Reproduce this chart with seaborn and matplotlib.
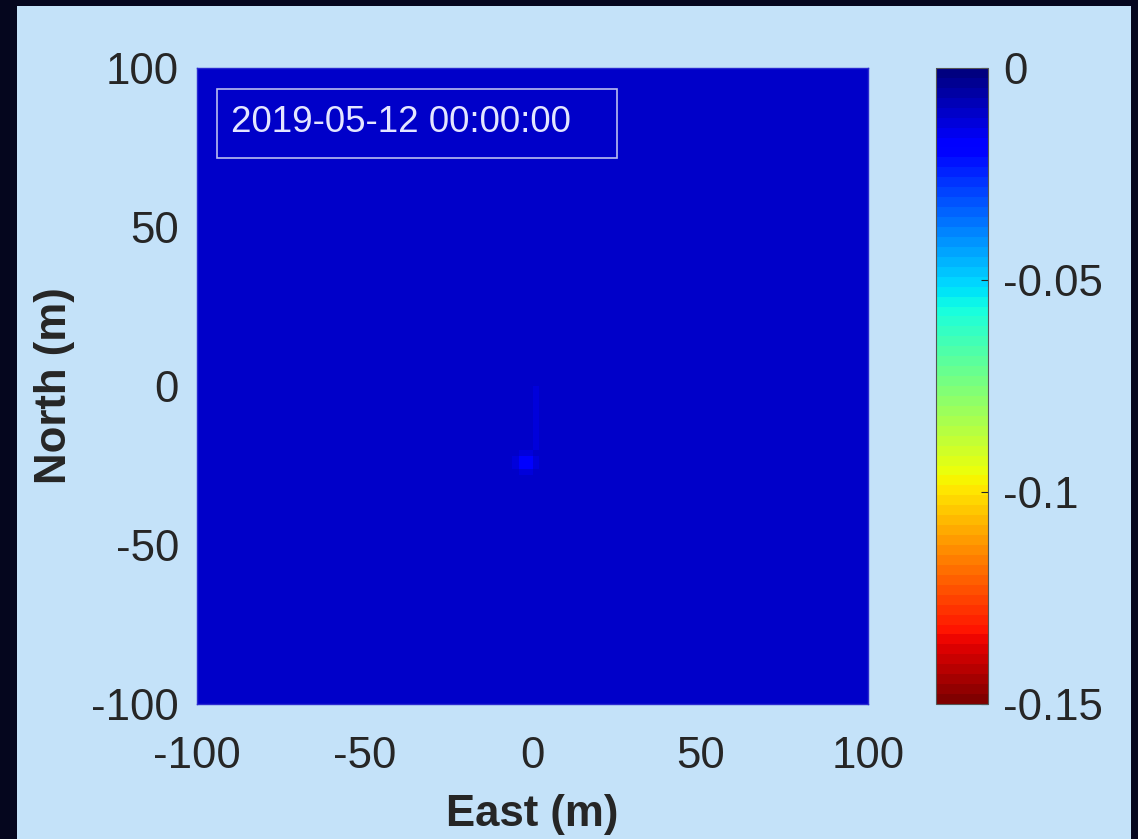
import numpy as np
import pandas as pd
import matplotlib
matplotlib.use("Agg")
import matplotlib.pyplot as plt
from matplotlib.patches import Rectangle
import seaborn as sns

# ---- data ----
grid_step = 2.0                       # metres per cell
east_edges_min, east_edges_max = -100, 100
north_edges_min, north_edges_max = -100, 100
base_value = -0.0105                  # uniform background value

# local anomalies (cell centres, metres) and their values
anom_east = [-3, -1, -3, -1,
             -5, -5, 1, 1, -3, -1, -3, -1,
             1, 1, 1, 1, 1, 1, 1, 1, 1, 1, 1, 1]
anom_north = [-23, -23, -25, -25,
              -23, -25, -23, -25, -21, -21, -27, -27,
              3, 1, -1, -3, -5, -7, -9, -11, -13, -15, -17, -19]
anom_value = [-0.018, -0.018, -0.018, -0.018,
              -0.014, -0.014, -0.014, -0.014, -0.014, -0.014, -0.014, -0.014,
              -0.0115, -0.0115, -0.012, -0.012, -0.012, -0.012, -0.012, -0.012,
              -0.0125, -0.0125, -0.013, -0.013]

xtick_vals = [-100, -50, 0, 50, 100]
ytick_vals = [100, 50, 0, -50, -100]
cbar_ticks = [0, -0.05, -0.1, -0.15]
cbar_labels = ["0", "-0.05", "-0.1", "-0.15"]
vmin, vmax = -0.15, 0.0
timestamp = "2019-05-12 00:00:00"

# ---- build grid ----
east_c = np.arange(east_edges_min + grid_step / 2, east_edges_max, grid_step)
north_c = np.arange(north_edges_max - grid_step / 2, north_edges_min, -grid_step)
field = np.full((len(north_c), len(east_c)), base_value)
for e, n, v in zip(anom_east, anom_north, anom_value):
    j = int(np.argmin(np.abs(east_c - e)))
    i = int(np.argmin(np.abs(north_c - n)))
    field[i, j] = v
df = pd.DataFrame(field, index=north_c, columns=east_c)

# ---- figure ----
W, H = 1138, 839
fig = plt.figure(figsize=(W / 100, H / 100), dpi=100)
fig.patch.set_facecolor("#05061E")
panel = Rectangle((17 / W, 0), (1131 - 17) / W, (H - 6) / H,
                  transform=fig.transFigure, facecolor="#C4E2F9",
                  edgecolor="none", zorder=-10)
fig.add_artist(panel)

plt.rcParams["font.family"] = ["Liberation Sans", "DejaVu Sans"]
txt_color = "#262626"
fs = 31.5

ax = fig.add_axes([197 / W, 1 - 704 / H, (868 - 197) / W, (704 - 68) / H])
cax = fig.add_axes([936 / W, 1 - 704 / H, (988 - 936) / W, (704 - 68) / H])
ax.set_zorder(1)
cax.set_zorder(1)

cmap = plt.get_cmap("jet_r", 64)
sns.heatmap(df, ax=ax, cbar_ax=cax, cmap=cmap, vmin=vmin, vmax=vmax,
            xticklabels=False, yticklabels=False,
            cbar_kws={"ticks": cbar_ticks})

ax.set_xticks([(x - east_edges_min) / grid_step for x in xtick_vals])
ax.set_xticklabels([str(x) for x in xtick_vals], rotation=0)
ax.set_yticks([(north_edges_max - y) / grid_step for y in ytick_vals])
ax.set_yticklabels([str(y) for y in ytick_vals], rotation=0)
ax.tick_params(axis="x", length=0, labelsize=fs, labelcolor=txt_color, pad=23)
ax.tick_params(axis="y", length=0, labelsize=fs, labelcolor=txt_color, pad=13)
ax.set_xlabel("East (m)", fontsize=fs, fontweight="bold", color=txt_color, labelpad=12)
ax.set_ylabel("North (m)", fontsize=fs, fontweight="bold", color=txt_color, labelpad=12)
for s in ax.spines.values():
    s.set_visible(True)
    s.set_color("#2A2AD0")
    s.set_linewidth(1.0)

# timestamp box
ax.add_patch(Rectangle(((217 - 197) / 671, (704 - 158) / 636),
                       (617 - 217) / 671, (158 - 89) / 636,
                       transform=ax.transAxes, fill=False,
                       edgecolor="#B8BCF0", linewidth=1.2, zorder=5))
ax.text((231 - 197) / 671, (704 - 123) / 636, timestamp, transform=ax.transAxes,
        fontsize=26.5, color="#E4E6FF", va="center", ha="left", zorder=6)

# colorbar styling
cax.set_yticklabels(cbar_labels)
cax.tick_params(direction="in", length=5, color=txt_color, labelsize=fs,
                labelcolor=txt_color, pad=11)
cbar = ax.collections[0].colorbar
cbar.outline.set_edgecolor("#555555")
cbar.outline.set_linewidth(0.8)

fig.savefig("out.png", dpi=100, facecolor=fig.get_facecolor())
